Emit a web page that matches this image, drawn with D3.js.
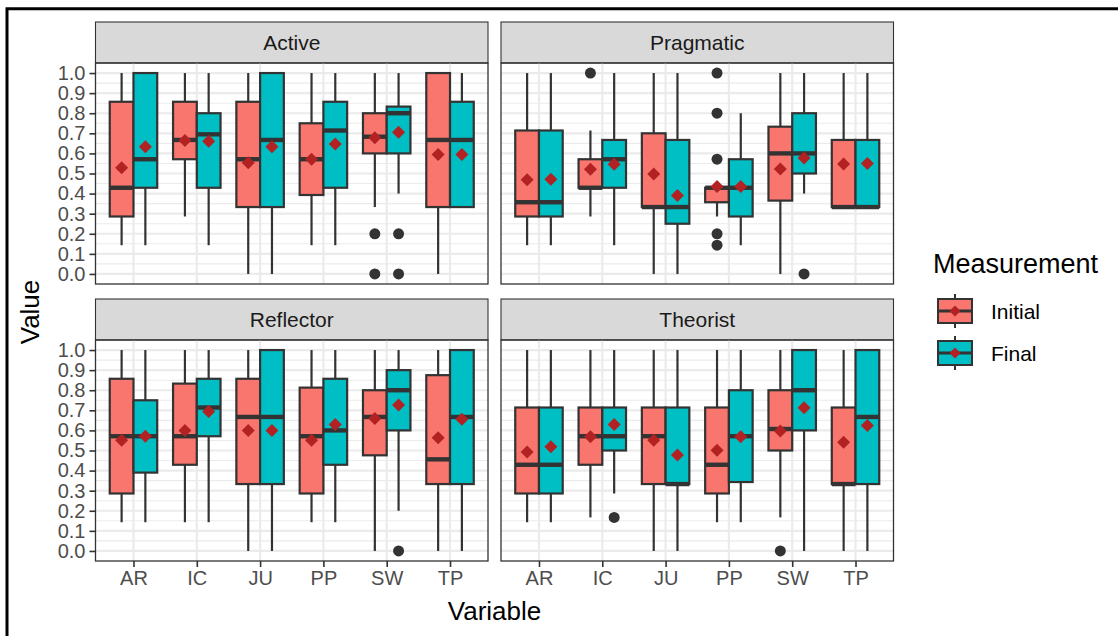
<!DOCTYPE html>
<html>
<head>
<meta charset="utf-8">
<script src="https://cdn.jsdelivr.net/npm/d3@7"></script>
<style>
  body { margin: 0; background: #fff; }
  text { font-family: "Liberation Sans", Arial, sans-serif; }
</style>
</head>
<body>
<script>
// ---- data ----
const categories = ["AR", "IC", "JU", "PP", "SW", "TP"];
const series = ["Initial", "Final"];
const panels = ["Active", "Pragmatic", "Reflector", "Theorist"];
const yTicks = [0, 0.1, 0.2, 0.3, 0.4, 0.5, 0.6, 0.7, 0.8, 0.9, 1.0];

// each row: [lower whisker, q1, median, q3, upper whisker, mean], one row per category
const activeInitial = [
  [0.143, 0.286, 0.429, 0.857, 1.0, 0.529],
  [0.286, 0.571, 0.667, 0.857, 1.0, 0.664],
  [0.0, 0.333, 0.571, 0.857, 1.0, 0.554],
  [0.143, 0.393, 0.571, 0.75, 1.0, 0.571],
  [0.333, 0.6, 0.683, 0.8, 1.0, 0.678],
  [0.0, 0.333, 0.667, 1.0, 1.0, 0.595]
];
const activeFinal = [
  [0.143, 0.429, 0.571, 1.0, 1.0, 0.633],
  [0.143, 0.429, 0.695, 0.8, 1.0, 0.66],
  [0.0, 0.333, 0.667, 1.0, 1.0, 0.633],
  [0.143, 0.429, 0.714, 0.857, 1.0, 0.647],
  [0.4, 0.6, 0.8, 0.833, 1.0, 0.705],
  [0.333, 0.333, 0.667, 0.857, 1.0, 0.594]
];
const pragmaticInitial = [
  [0.143, 0.286, 0.357, 0.714, 1.0, 0.469],
  [0.286, 0.429, 0.429, 0.571, 0.714, 0.521],
  [0.0, 0.333, 0.333, 0.7, 1.0, 0.498],
  [0.286, 0.357, 0.429, 0.429, 0.429, 0.435],
  [0.0, 0.365, 0.6, 0.733, 1.0, 0.522],
  [0.333, 0.333, 0.333, 0.667, 1.0, 0.547]
];
const pragmaticFinal = [
  [0.143, 0.286, 0.357, 0.714, 1.0, 0.472],
  [0.143, 0.429, 0.571, 0.667, 1.0, 0.546],
  [0.0, 0.25, 0.333, 0.667, 1.0, 0.39],
  [0.143, 0.286, 0.429, 0.571, 0.8, 0.435],
  [0.4, 0.5, 0.6, 0.8, 1.0, 0.577],
  [0.333, 0.333, 0.333, 0.667, 1.0, 0.55]
];
const reflectorInitial = [
  [0.143, 0.286, 0.571, 0.857, 1.0, 0.551],
  [0.143, 0.429, 0.571, 0.833, 1.0, 0.6],
  [0.0, 0.333, 0.667, 0.857, 1.0, 0.6],
  [0.143, 0.286, 0.571, 0.813, 1.0, 0.551],
  [0.0, 0.476, 0.667, 0.8, 1.0, 0.659],
  [0.0, 0.333, 0.456, 0.875, 1.0, 0.564]
];
const reflectorFinal = [
  [0.143, 0.39, 0.571, 0.75, 1.0, 0.571],
  [0.143, 0.571, 0.714, 0.857, 1.0, 0.694],
  [0.0, 0.333, 0.667, 1.0, 1.0, 0.6],
  [0.143, 0.429, 0.6, 0.857, 1.0, 0.63],
  [0.2, 0.6, 0.8, 0.9, 1.0, 0.726],
  [0.0, 0.333, 0.667, 1.0, 1.0, 0.655]
];
const theoristInitial = [
  [0.143, 0.286, 0.429, 0.714, 1.0, 0.493],
  [0.167, 0.429, 0.571, 0.714, 1.0, 0.568],
  [0.0, 0.333, 0.571, 0.714, 1.0, 0.551],
  [0.143, 0.286, 0.429, 0.714, 1.0, 0.501],
  [0.167, 0.5, 0.607, 0.8, 1.0, 0.597],
  [0.0, 0.333, 0.333, 0.714, 1.0, 0.541]
];
const theoristFinal = [
  [0.143, 0.286, 0.429, 0.714, 1.0, 0.519],
  [0.286, 0.5, 0.571, 0.714, 1.0, 0.63],
  [0.0, 0.333, 0.333, 0.714, 1.0, 0.478],
  [0.143, 0.343, 0.571, 0.8, 1.0, 0.568],
  [0.0, 0.6, 0.8, 1.0, 1.0, 0.713],
  [0.0, 0.333, 0.667, 1.0, 1.0, 0.625]
];
// [panel, category, measurement, value]
const outliers = [
  ["Active", "SW", "Initial", 0.2], ["Active", "SW", "Initial", 0.0],
  ["Active", "SW", "Final", 0.2], ["Active", "SW", "Final", 0.0],
  ["Pragmatic", "IC", "Initial", 1.0],
  ["Pragmatic", "PP", "Initial", 1.0], ["Pragmatic", "PP", "Initial", 0.8],
  ["Pragmatic", "PP", "Initial", 0.571], ["Pragmatic", "PP", "Initial", 0.2],
  ["Pragmatic", "PP", "Initial", 0.143],
  ["Pragmatic", "SW", "Final", 0.0],
  ["Reflector", "SW", "Final", 0.0],
  ["Theorist", "IC", "Final", 0.167],
  ["Theorist", "SW", "Initial", 0.0]
];

const stats = {
  Active: {Initial: activeInitial, Final: activeFinal},
  Pragmatic: {Initial: pragmaticInitial, Final: pragmaticFinal},
  Reflector: {Initial: reflectorInitial, Final: reflectorFinal},
  Theorist: {Initial: theoristInitial, Final: theoristFinal}
};

const fillColor = {Initial: "#F8766D", Final: "#00BFC4"};
const meanColor = "#B22222";
const ink = "#333333";

// ---- layout ----
const width = 1118, height = 636;
const panelW = 392.5, panelH = 221, stripH = 41;
const colX = [95.5, 501];
const rowTop = [22, 299];

const svg = d3.select('body').append('svg')
  .attr('width', width)
  .attr('height', height);

svg.append('rect').attr('width', width).attr('height', height).attr('fill', '#fff');

// frame of the cropped picture
svg.append('path')
  .attr('d', `M7,${height} V8.7 H${width}`)
  .attr('fill', 'none')
  .attr('stroke', '#000')
  .attr('stroke-width', 3);

panels.forEach((name, i) => {
  const col = i % 2, row = Math.floor(i / 2);
  const x0 = colX[col];
  const top = rowTop[row] + stripH;

  const x = d3.scalePoint().domain(categories).range([x0, x0 + panelW]).padding(0.6);
  const dodge = d3.scaleBand().domain(series)
    .range([-0.375 * x.step(), 0.375 * x.step()]);
  const y = d3.scaleLinear().domain([-0.05, 1.05]).range([top + panelH, top]);

  const g = svg.append('g');

  // strip
  g.append('rect')
    .attr('x', x0).attr('y', rowTop[row])
    .attr('width', panelW).attr('height', stripH)
    .attr('fill', '#D9D9D9').attr('stroke', ink).attr('stroke-width', 1.1);
  g.append('text')
    .attr('x', x0 + panelW / 2).attr('y', rowTop[row] + stripH / 2)
    .attr('dy', '0.35em').attr('text-anchor', 'middle')
    .attr('font-size', 21).attr('fill', '#1A1A1A')
    .text(name);

  // grid
  const minor = d3.range(0.05, 1.0, 0.1);
  g.selectAll('.minor').data(minor).join('line')
    .attr('x1', x0).attr('x2', x0 + panelW)
    .attr('y1', d => y(d)).attr('y2', d => y(d))
    .attr('stroke', '#EBEBEB').attr('stroke-width', 1.1);
  g.selectAll('.major').data(yTicks).join('line')
    .attr('x1', x0).attr('x2', x0 + panelW)
    .attr('y1', d => y(d)).attr('y2', d => y(d))
    .attr('stroke', '#EBEBEB').attr('stroke-width', 2.2);
  g.selectAll('.vmajor').data(categories).join('line')
    .attr('x1', d => x(d)).attr('x2', d => x(d))
    .attr('y1', top).attr('y2', top + panelH)
    .attr('stroke', '#EBEBEB').attr('stroke-width', 2.2);

  // boxes
  const boxes = [];
  series.forEach(s => {
    stats[name][s].forEach((v, k) => boxes.push({cat: categories[k], s, v}));
  });
  const bw = dodge.bandwidth();
  const cx = d => x(d.cat) + dodge(d.s) + bw / 2;

  const b = g.selectAll('.box').data(boxes).join('g');
  b.append('line')
    .attr('x1', cx).attr('x2', cx)
    .attr('y1', d => y(d.v[0])).attr('y2', d => y(d.v[4]))
    .attr('stroke', ink).attr('stroke-width', 2.2);
  b.append('rect')
    .attr('x', d => cx(d) - bw / 2).attr('width', bw)
    .attr('y', d => y(d.v[3])).attr('height', d => y(d.v[1]) - y(d.v[3]))
    .attr('fill', d => fillColor[d.s])
    .attr('stroke', ink).attr('stroke-width', 2.2);
  b.append('line')
    .attr('x1', d => cx(d) - bw / 2).attr('x2', d => cx(d) + bw / 2)
    .attr('y1', d => y(d.v[2])).attr('y2', d => y(d.v[2]))
    .attr('stroke', ink).attr('stroke-width', 4.4);

  g.selectAll('.out').data(outliers.filter(o => o[0] === name)).join('circle')
    .attr('cx', o => x(o[1]) + dodge(o[2]) + bw / 2)
    .attr('cy', o => y(o[3]))
    .attr('r', 5.5)
    .attr('fill', ink);

  // means
  g.selectAll('.mean').data(boxes).join('path')
    .attr('d', d => {
      const px = cx(d), py = y(d.v[5]), r = 6.5;
      return `M${px},${py - r}L${px + r},${py}L${px},${py + r}L${px - r},${py}Z`;
    })
    .attr('fill', meanColor);

  // border
  g.append('rect')
    .attr('x', x0).attr('y', top)
    .attr('width', panelW).attr('height', panelH)
    .attr('fill', 'none').attr('stroke', ink).attr('stroke-width', 1.3);

  // axes
  if (col === 0) {
    const ay = g.append('g')
      .attr('transform', `translate(${x0},0)`)
      .call(d3.axisLeft(y).tickValues(yTicks).tickFormat(d3.format('.1f'))
        .tickSize(6).tickPadding(4));
    ay.select('.domain').remove();
    ay.selectAll('line').attr('stroke', ink).attr('stroke-width', 1.6);
    ay.selectAll('text').attr('fill', '#4D4D4D').attr('font-size', 20)
      .attr('font-family', '"Liberation Sans", Arial, sans-serif');
  }
  if (row === 1) {
    const ax = g.append('g')
      .attr('transform', `translate(0,${top + panelH})`)
      .call(d3.axisBottom(x).tickSize(6).tickPadding(4));
    ax.select('.domain').remove();
    ax.selectAll('line').attr('stroke', ink).attr('stroke-width', 1.6);
    ax.selectAll('text').attr('fill', '#4D4D4D').attr('font-size', 20)
      .attr('font-family', '"Liberation Sans", Arial, sans-serif');
  }
});

// axis titles
svg.append('text')
  .attr('x', colX[0] + (colX[1] + panelW - colX[0]) / 2).attr('y', 620)
  .attr('text-anchor', 'middle').attr('font-size', 26).attr('fill', '#000')
  .text('Variable');
svg.append('text')
  .attr('transform', `translate(39,${(rowTop[0] + stripH + rowTop[1] + stripH + panelH) / 2}) rotate(-90)`)
  .attr('text-anchor', 'middle').attr('font-size', 26).attr('fill', '#000')
  .text('Value');

// legend
const legend = svg.append('g');
legend.append('text')
  .attr('x', 933).attr('y', 273)
  .attr('font-size', 27).attr('fill', '#000')
  .text('Measurement');

const keys = legend.selectAll('.key').data(series).join('g')
  .attr('transform', (d, i) => `translate(955,${311 + i * 42})`);
keys.append('line')
  .attr('y1', -17).attr('y2', 17)
  .attr('stroke', ink).attr('stroke-width', 2);
keys.append('rect')
  .attr('x', -17).attr('y', -12).attr('width', 34).attr('height', 24)
  .attr('fill', d => fillColor[d]).attr('stroke', ink).attr('stroke-width', 2);
keys.append('line')
  .attr('x1', -17).attr('x2', 17)
  .attr('stroke', ink).attr('stroke-width', 3);
keys.append('path')
  .attr('d', 'M0,-5.5L5.5,0L0,5.5L-5.5,0Z')
  .attr('fill', meanColor);
keys.append('text')
  .attr('x', 36).attr('dy', '0.36em')
  .attr('font-size', 21).attr('fill', '#000')
  .text(d => d);
</script>
</body>
</html>
